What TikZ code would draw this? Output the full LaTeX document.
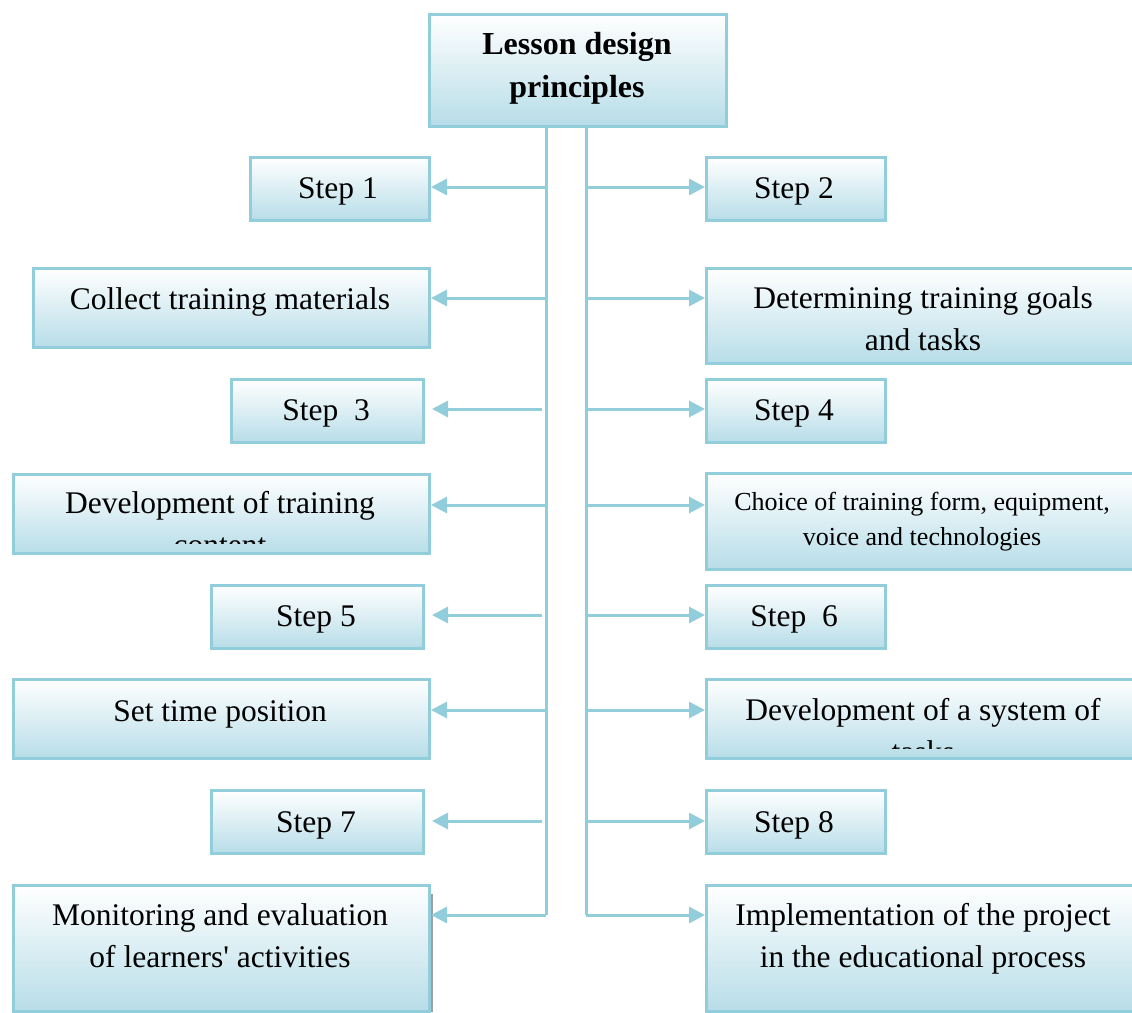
\documentclass[tikz,border=0pt]{standalone}
\usepackage{fontspec}
\setmainfont{Liberation Serif}[Ligatures=TeXOff]
\usetikzlibrary{arrows.meta}
\definecolor{bfill}{RGB}{183,221,232}
\definecolor{bline}{RGB}{146,205,220}
\begin{document}
\begin{tikzpicture}[x=1pt,y=-1pt,
  box/.style={draw=bline, line width=3pt, top color=white, bottom color=bfill,
    inner sep=0pt, anchor=north west},
  txt/.style={font=\fontsize{31.5}{42}\selectfont, align=center, inner sep=0pt},
  smalltxt/.style={font=\fontsize{26}{35}\selectfont, align=center, inner sep=0pt},
  ttl/.style={font=\bfseries\fontsize{32}{43}\selectfont, align=center, inner sep=0pt},
  ln/.style={draw=bline, line width=3pt},
  arr/.style={draw=bline, line width=3pt, -{Triangle[length=16pt,width=16pt]}}]
\useasboundingbox (0,0) rectangle (1132,1012);
% shadow of the last left box
\fill[gray!75] (429,894) rectangle (433,1012);
% boxes
\node[box, minimum width=297pt, minimum height=112pt] (title) at (428,13) {};
\node[box, minimum width=179pt, minimum height=63pt] (s1) at (249,156) {};
\node[box, minimum width=179pt, minimum height=63pt] (s2) at (705,156) {};
\node[box, minimum width=396pt, minimum height=79pt] (collect) at (32,267) {};
\node[box, minimum width=440pt, minimum height=95pt] (goals) at (705,267) {};
\node[box, minimum width=192pt, minimum height=63pt] (s3) at (230,378) {};
\node[box, minimum width=179pt, minimum height=63pt] (s4) at (705,378) {};
\node[box, minimum width=416pt, minimum height=79pt] (content) at (12,473) {};
\node[box, minimum width=440pt, minimum height=96pt] (choice) at (705,472) {};
\node[box, minimum width=212pt, minimum height=63pt] (s5) at (210,584) {};
\node[box, minimum width=179pt, minimum height=63pt] (s6) at (705,584) {};
\node[box, minimum width=416pt, minimum height=79pt] (timepos) at (12,678) {};
\node[box, minimum width=440pt, minimum height=79pt] (tasks) at (705,678) {};
\node[box, minimum width=212pt, minimum height=63pt] (s7) at (210,789) {};
\node[box, minimum width=179pt, minimum height=63pt] (s8) at (705,789) {};
\node[box, minimum width=416pt, minimum height=126pt] (monitor) at (12,884) {};
\node[box, minimum width=440pt, minimum height=126pt] (implement) at (705,884) {};
% texts
\node[ttl] (ttitle) at (577,68) {Lesson design\\principles};
\node[txt] (ts1) at (338,190) {\strut Step 1};
\node[txt] (ts2) at (794,190) {\strut Step 2};
\node[txt] (tcollect) at (230,301) {\strut Collect training materials};
\node[txt] (tgoals) at (923,321.5) {\strut Determining training goals\\\strut and tasks};
\node[txt] (ts3) at (326,412) {\strut Step\ \ 3};
\node[txt] (ts4) at (794,412) {\strut Step 4};
\begin{scope}
  \clip (12,473) rectangle (428,543);
  \node[txt] (tcontent) at (220,526.5) {\strut Development of training\\\strut content};
\end{scope}
\node[smalltxt] (tchoice) at (922,521) {\strut Choice of training form, equipment,\\\strut voice and technologies};
\node[txt] (ts5) at (316,618) {\strut Step 5};
\node[txt] (ts6) at (794,618) {\strut Step\ \ 6};
\node[txt] (ttimepos) at (220,713) {\strut Set time position};
\begin{scope}
  \clip (705,678) rectangle (1145,748);
  \node[txt] (ttasks) at (923,733.5) {\strut Development of a system of\\\strut tasks};
\end{scope}
\node[txt] (ts7) at (316,824) {\strut Step 7};
\node[txt] (ts8) at (794,824) {\strut Step 8};
\node[txt] (tmonitor) at (220,938.5) {\strut Monitoring and evaluation\\\strut of learners' activities};
\node[txt] (timplement) at (923,938.5) {\strut Implementation of the project\\\strut in the educational process};
% trunk coordinates
\coordinate (lt) at (546,125);
\coordinate (lb) at (546,915);
\coordinate (rt) at (586,125);
\coordinate (rb) at (586,915);
\draw[ln] (lt) -- (lb);
\draw[ln] (rt) -- (rb);
% row coordinates
\coordinate (l1) at (546,187);
\coordinate (l2) at (546,298);
\coordinate (l3) at (542,409);
\coordinate (l4) at (546,505);
\coordinate (l5) at (542,615);
\coordinate (l6) at (546,710);
\coordinate (l7) at (542,821);
\coordinate (r1) at (586,187);
\coordinate (r2) at (586,298);
\coordinate (r3) at (586,409);
\coordinate (r4) at (586,505);
\coordinate (r5) at (586,615);
\coordinate (r6) at (586,710);
\coordinate (r7) at (586,821);
% left arrows
\draw[arr] (l1) -- (l1 -| s1.east);
\draw[arr] (l2) -- (l2 -| collect.east);
\draw[arr, shorten >=7pt] (l3) -- (l3 -| s3.east);
\draw[arr] (l4) -- (l4 -| content.east);
\draw[arr, shorten >=7pt] (l5) -- (l5 -| s5.east);
\draw[arr] (l6) -- (l6 -| timepos.east);
\draw[arr, shorten >=7pt] (l7) -- (l7 -| s7.east);
\draw[arr] (lb) -- (lb -| monitor.east);
% right arrows
\draw[arr] (r1) -- (r1 -| s2.west);
\draw[arr] (r2) -- (r2 -| goals.west);
\draw[arr] (r3) -- (r3 -| s4.west);
\draw[arr] (r4) -- (r4 -| choice.west);
\draw[arr] (r5) -- (r5 -| s6.west);
\draw[arr] (r6) -- (r6 -| tasks.west);
\draw[arr] (r7) -- (r7 -| s8.west);
\draw[arr] (rb) -- (rb -| implement.west);
\end{tikzpicture}
\end{document}
